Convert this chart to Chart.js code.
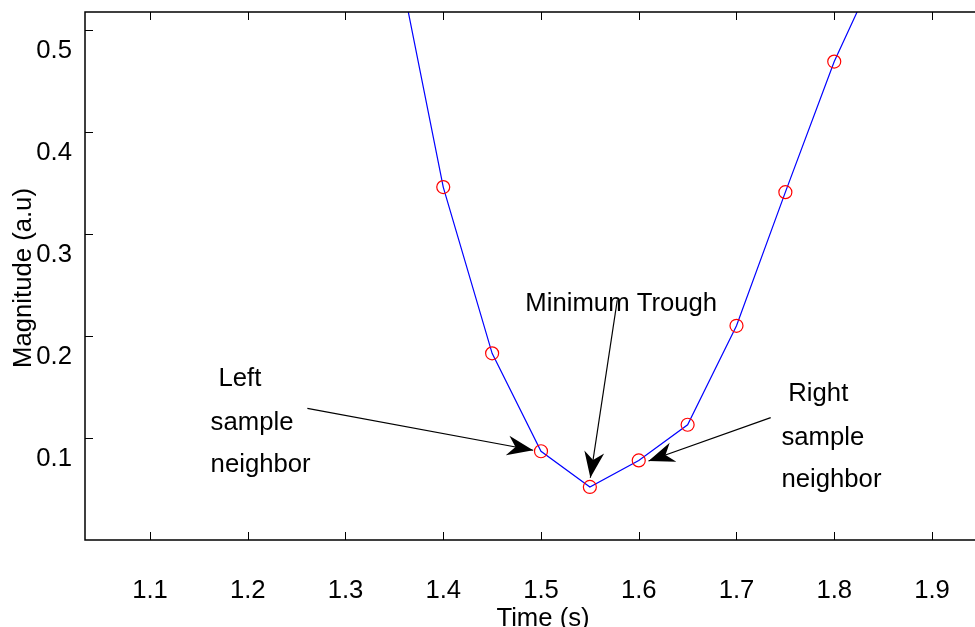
<!DOCTYPE html>
<html>
<head>
<meta charset="utf-8">
<title>Minimum Trough</title>
<script src="https://cdn.jsdelivr.net/npm/chart.js@4/dist/chart.umd.min.js"></script>
<style>
  html, body { margin: 0; padding: 0; background: #fff; overflow: hidden; }
  canvas { display: block; }
</style>
</head>
<body>
<canvas id="trough" width="975" height="627"></canvas>
<script>
'use strict';

// ── Data ─────────────────────────────────────────────────
const timeS     = [1.35, 1.40, 1.45, 1.50, 1.55, 1.60, 1.65, 1.70, 1.75, 1.80, 1.85];
const magnitude = [0.586, 0.346, 0.183, 0.087, 0.052, 0.078, 0.113, 0.210, 0.341, 0.469, 0.573];

const xTicks = [1.1, 1.2, 1.3, 1.4, 1.5, 1.6, 1.7, 1.8, 1.9];
const yTicks = [0.1, 0.2, 0.3, 0.4, 0.5];

// annotation text lines (data units, left / baseline)
const noteLines = ['Left', 'sample', 'neighbor', 'Minimum Trough', 'Right', 'sample', 'neighbor'];
const noteX     = [1.170, 1.162, 1.162, 1.484, 1.753, 1.746, 1.746];
const noteY     = [0.151, 0.108, 0.067, 0.2245, 0.136, 0.093, 0.052];

// arrows: start -> tip (data units)
const arrowFromX = [1.261, 1.578, 1.735];
const arrowFromY = [0.129, 0.235, 0.120];
const arrowToX   = [1.492, 1.5505, 1.610];
const arrowToY   = [0.088, 0.061, 0.0775];

// ── Style ────────────────────────────────────────────────
const FONT  = "'Liberation Sans', Arial, sans-serif";
const FSIZE = 25.7;
const INK   = '#000';
const TICK  = 8;

function drawArrowHead(ctx, x0, y0, x1, y1) {
  const a = Math.atan2(y1 - y0, x1 - x0);
  const len = 26, half = 10, notch = 18;
  ctx.save();
  ctx.translate(x1, y1);
  ctx.rotate(a);
  ctx.beginPath();
  ctx.moveTo(0, 0);
  ctx.lineTo(-len, -half);
  ctx.lineTo(-notch, 0);
  ctx.lineTo(-len, half);
  ctx.closePath();
  ctx.fill();
  ctx.restore();
}

// no label overflow padding: keep the plot box where we put it
function noPad(s) {
  s.paddingTop = 0; s.paddingBottom = 0;
  s.paddingLeft = 0; s.paddingRight = 0;
}

// frame, inward ticks, axis titles, annotations
const framePlugin = {
  id: 'frame',
  afterDraw(chart) {
    const { ctx, chartArea: a, scales: { x, y } } = chart;
    ctx.save();
    ctx.strokeStyle = INK;
    ctx.lineWidth = 1.5;
    ctx.beginPath();
    ctx.moveTo(a.right + 2, a.top);
    ctx.lineTo(a.left, a.top);
    ctx.lineTo(a.left, a.bottom);
    ctx.lineTo(a.right + 2, a.bottom);
    ctx.stroke();

    ctx.lineWidth = 1;
    ctx.beginPath();
    xTicks.forEach(v => {
      const px = Math.round(x.getPixelForValue(v)) + 0.5;
      ctx.moveTo(px, a.bottom); ctx.lineTo(px, a.bottom - TICK);
      ctx.moveTo(px, a.top);    ctx.lineTo(px, a.top + TICK);
    });
    yTicks.forEach(v => {
      const py = Math.round(y.getPixelForValue(v)) + 0.5;
      ctx.moveTo(a.left, py); ctx.lineTo(a.left + TICK, py);
    });
    ctx.stroke();

    // axis titles
    ctx.fillStyle = INK;
    ctx.font = FSIZE + 'px ' + FONT;
    ctx.textAlign = 'center';
    ctx.textBaseline = 'alphabetic';
    ctx.fillText('Time (s)', 543, 626);
    ctx.save();
    ctx.translate(31, 278);
    ctx.rotate(-Math.PI / 2);
    ctx.fillText('Magnitude (a.u)', 0, 0);
    ctx.restore();

    // annotations
    ctx.textAlign = 'left';
    noteLines.forEach((t, i) => {
      ctx.fillText(t, x.getPixelForValue(noteX[i]), y.getPixelForValue(noteY[i]));
    });

    ctx.lineWidth = 1.2;
    arrowFromX.forEach((_, i) => {
      const x0 = x.getPixelForValue(arrowFromX[i]);
      const y0 = y.getPixelForValue(arrowFromY[i]);
      const x1 = x.getPixelForValue(arrowToX[i]);
      const y1 = y.getPixelForValue(arrowToY[i]);
      ctx.beginPath();
      ctx.moveTo(x0, y0);
      ctx.lineTo(x1, y1);
      ctx.stroke();
      drawArrowHead(ctx, x0, y0, x1, y1);
    });
    ctx.restore();
  }
};

// ── Chart ────────────────────────────────────────────────
Chart.defaults.font.family = FONT;
Chart.defaults.color = INK;

new Chart(document.getElementById('trough').getContext('2d'), {
  type: 'line',
  data: {
    datasets: [{
      data: timeS.map((t, i) => ({ x: t, y: magnitude[i] })),
      borderColor: '#0000ff',
      borderWidth: 1.2,
      pointStyle: 'circle',
      pointRadius: 6.5,
      pointBorderColor: '#ff0000',
      pointBorderWidth: 1.2,
      pointBackgroundColor: 'rgba(0,0,0,0)',
      tension: 0,
      fill: false,
    }],
  },
  options: {
    responsive: false,
    animation: false,
    devicePixelRatio: 1,
    layout: { autoPadding: false, padding: { top: 12, left: 0, right: 0, bottom: 0 } },
    plugins: { legend: { display: false }, tooltip: { enabled: false } },
    scales: {
      x: {
        type: 'linear',
        min: 1.0335,
        max: 1.944,
        grid: { display: false, drawTicks: false },
        border: { display: false },
        afterBuildTicks: s => { s.ticks = xTicks.map(v => ({ value: v })); },
        afterFit: s => { s.height = 87; noPad(s); },
        ticks: {
          padding: 35,
          color: INK,
          font: { size: FSIZE },
          maxRotation: 0,
          callback: v => v.toFixed(1),
        },
      },
      y: {
        min: 0,
        max: 0.5176,
        grid: { display: false, drawTicks: false },
        border: { display: false },
        afterBuildTicks: s => { s.ticks = yTicks.map(v => ({ value: v })); },
        afterFit: s => { s.width = 85; noPad(s); },
        ticks: {
          padding: 13,
          labelOffset: 21,
          color: INK,
          font: { size: FSIZE },
          callback: v => v.toFixed(1),
        },
      },
    },
  },
  plugins: [framePlugin],
});
</script>
</body>
</html>
